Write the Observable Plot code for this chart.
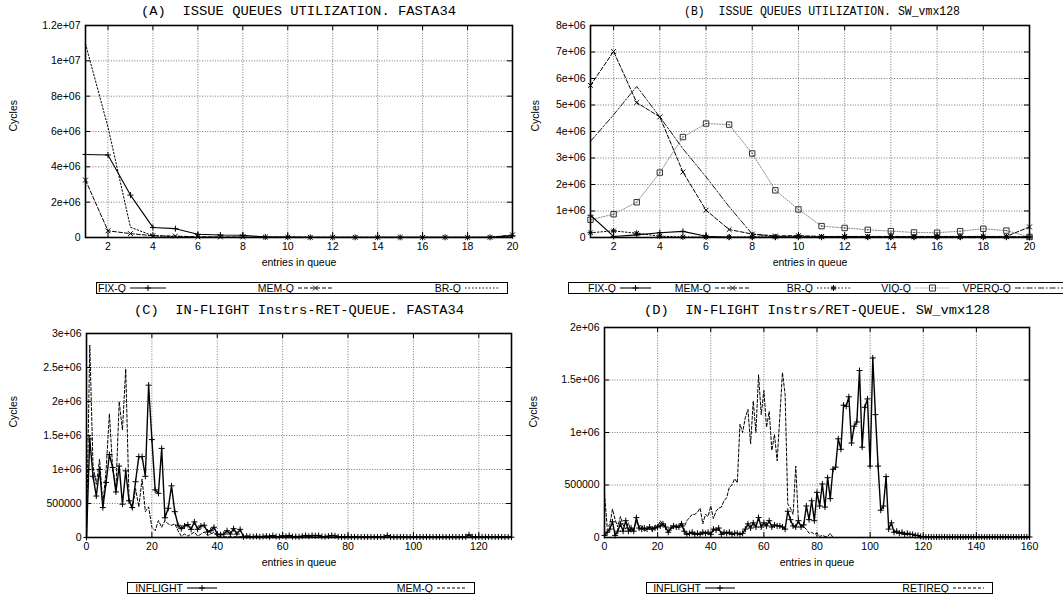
<!DOCTYPE html>
<html><head><meta charset="utf-8">
<script src="https://cdn.jsdelivr.net/npm/d3@7"></script>
<script src="https://cdn.jsdelivr.net/npm/@observablehq/plot@0.6"></script>
<style>
body{margin:0;background:#fff;}
#root{position:relative;width:1063px;height:597px;overflow:hidden;background:#fff;}
#root > svg{position:absolute;}
</style></head><body><div id="root"></div>
<script>
// ---------- DATA (y values in millions of cycles) ----------
const entriesAB = [1,2,3,4,5,6,7,8,9,10,11,12,13,14,15,16,17,18,19,20];
const xTicksAB = [2,4,6,8,10,12,14,16,18,20];

const fixA = [4.7,4.67,2.4,0.57,0.5,0.18,0.14,0.13,0.03,0.02,0.01,0.01,0.01,0.01,0.01,0.01,0.01,0.01,0.01,0.1];
const memA = [3.25,0.38,0.22,0.1,0.08,0.04,0.03,0.03,0.02,0.02,0.01,0.01,0.01,0.01,0.01,0.01,0.01,0.01,0.01,0.15];
const brA  = [10.96,6.25,0.58,0.1,0.05,0.02,0.01,0.01,0.01,0.01,0.01,0.01,0.01,0.01,0.01,0.01,0.01,0.01,0.01,0.05];
const yTicksA = [0,2,4,6,8,10,12];
const yLabelsA = ["0","2e+06","4e+06","6e+06","8e+06","1e+07","1.2e+07"];

const fixB   = [0.84,0.04,0.1,0.18,0.23,0.05,0.01,0.01,0.01,0.01,0.01,0.01,0.01,0.01,0.01,0.01,0.01,0.01,0.01,0.01];
const memB   = [5.74,7.02,5.09,4.55,2.47,1.03,0.3,0.13,0.06,0.07,0.04,0.04,0.04,0.04,0.04,0.04,0.04,0.04,0.04,0.4];
const brB    = [0.18,0.25,0.16,0.05,0.02,0.02,0.02,0.02,0.02,0.02,0.02,0.02,0.02,0.02,0.02,0.02,0.02,0.02,0.02,0.02];
const viqB   = [0.67,0.88,1.33,2.45,3.79,4.3,4.26,3.17,1.78,1.06,0.43,0.36,0.29,0.24,0.19,0.18,0.24,0.33,0.26,0.02];
const vperqB = [3.63,4.63,5.7,4.55,3.35,2.29,1.16,0.13,0.03,0.03,0.03,0.03,0.03,0.03,0.03,0.03,0.03,0.03,0.03,0.03];
const yTicksB = [0,1,2,3,4,5,6,7,8];
const yLabelsB = ["0","1e+06","2e+06","3e+06","4e+06","5e+06","6e+06","7e+06","8e+06"];

// panel C: index = entries in queue (0..130)
const inflightC = [
0,1.45,0.9,0.61,1.0,0.44,0.81,1.22,1.03,0.67,
1.05,0.49,0.98,0.54,0.44,0.82,1.19,1.19,0.9,2.24,
1.44,0.7,0.65,1.31,0.29,0.43,0.76,0.38,0.18,0.13,
0.17,0.19,0.12,0.23,0.12,0.17,0.18,0.08,0.1,0.15,
0.05,0.04,0.05,0.1,0.05,0.13,0.05,0.12,0.01,0.02,
0.015,0.012,0.018,0.01,0.015,0.02,0.012,0.028,0.015,0.012,
0.025,0.015,0.03,0.012,0.015,0.01,0.02,0.03,0.018,0.03,
0.025,0.03,0.015,0.012,0.02,0.03,0.025,0.01,0.008,0.01,
0.008,0.008,0.008,0.008,0.008,0.008,0.008,0.008,0.008,0.008,
0.008,0.008,0.03,0.008,0.008,0.008,0.008,0.008,0.008,0.008,
0.008,0.008,0.008,0.008,0.008,0.008,0.008,0.008,0.008,0.008,
0.008,0.008,0.008,0.008,0.008,0.008,0.01,0.04,0.01,0.008,
0.008,0.008,0.008,0.008,0.008,0.008,0.008,0.008,0.008,0.008,
0.005];
const memC = [
0,2.83,1.05,0.78,1.15,0.48,1.0,1.82,1.02,0.7,
2.0,1.58,2.48,0.58,0.42,0.72,0.45,0.86,0.38,0.45,
0.15,0.1,0.25,0.15,0.25,0.2,0.18,0.2,0.1,0.02,
0.05,0.02,0.05,0.08,0.02,0.05,0.08,0.03,0.05,0.08,
0.02,0.01,0.01,0.01,0.01,0.01,0.01,0.01,0.01,0.01,
0.005,0.005,0.005,0.005,0.005,0.005,0.005,0.005,0.005,0.005,
0,0,0,0,0,0,0,0,0,0,0,0,0,0,0,0,0,0,0,0,
0,0,0,0,0,0,0,0,0,0,0,0,0,0,0,0,0,0,0,0,
0,0,0,0,0,0,0,0,0,0,0,0,0,0,0,0,0,0,0,0,
0,0,0,0,0,0,0,0,0,0,0];
const xTicksC = [0,20,40,60,80,100,120];
const yTicksC = [0,0.5,1,1.5,2,2.5,3];
const yLabelsC = ["0","500000","1e+06","1.5e+06","2e+06","2.5e+06","3e+06"];

// panel D: index = entries in queue (0..160)
const inflightD = [
0.02,0.05,0.08,0.15,0.02,0.06,0.13,0.06,0.16,0.06,
0.09,0.06,0.19,0.09,0.08,0.09,0.08,0.1,0.08,0.09,
0.1,0.11,0.13,0.1,0.05,0.09,0.11,0.1,0.1,0.13,
0.06,0.03,0.04,0.05,0.03,0.04,0.03,0.05,0.04,0.05,
0.03,0.08,0.07,0.09,0.03,0.05,0.04,0.05,0.03,0.04,
0.04,0.03,0.04,0.08,0.13,0.09,0.14,0.1,0.19,0.1,
0.14,0.11,0.16,0.1,0.12,0.11,0.11,0.1,0.08,0.25,
0.17,0.11,0.1,0.16,0.1,0.12,0.3,0.17,0.35,0.16,
0.43,0.3,0.51,0.29,0.57,0.37,0.65,0.67,0.94,0.84,
1.26,1.25,1.34,0.9,1.06,1.1,1.59,0.86,1.24,1.32,
0.68,1.71,1.17,0.68,0.26,0.3,0.58,0.08,0.14,0.05,
0.06,0.04,0.05,0.03,0.04,0.03,0.03,0.02,0.02,0.01,
0.005,0.005,0.005,0.005,0.005,0.005,0.005,0.005,0.005,0.005,
0.005,0.005,0.005,0.005,0.005,0.005,0.005,0.005,0.005,0.005,
0.005,0.005,0.005,0.005,0.005,0.005,0.005,0.005,0.005,0.005,
0.005,0.005,0.005,0.005,0.005,0.005,0.005,0.005,0.005,0.005,
0.005];
const retireD = [
0.42,0.1,0.12,0.27,0.17,0.1,0.2,0.12,0.08,0.14,
0.05,0.08,0.15,0.1,0.12,0.06,0.08,0.1,0.06,0.12,
0.1,0.16,0.12,0.1,0.05,0.08,0.1,0.12,0.1,0.14,
0.1,0.16,0.19,0.22,0.22,0.24,0.28,0.13,0.22,0.2,
0.3,0.18,0.25,0.28,0.29,0.35,0.38,0.48,0.5,0.56,
0.52,1.08,1.0,1.14,1.22,0.89,1.3,1.0,1.55,1.17,
1.4,1.05,1.2,0.83,0.98,0.73,1.15,1.57,1.36,0.32,
0.28,0.22,0.68,0.15,0.12,0.1,0.08,0.04,0.05,0.03,
0.04,0.01,0.02,0.01,0.01,0.04,0,0,0,0,
0,0,0,0,0,0,0,0,0,0,0,0,0,0,0,0,0,0,0,0,
0,0,0,0,0,0,0,0,0,0,0,0,0,0,0,0,0,0,0,0,
0,0,0,0,0,0,0,0,0,0,0,0,0,0,0,0,0,0,0,0,
0,0,0,0,0,0,0,0,0,0,0];
const xTicksD = [0,20,40,60,80,100,120,140,160];
const yTicksD = [0,0.5,1,1.5,2];
const yLabelsD = ["0","500000","1e+06","1.5e+06","2e+06"];

const titles = [
  "(A)  ISSUE QUEUES UTILIZATION. FASTA34",
  "(B)  ISSUE QUEUES UTILIZATION. SW_vmx128",
  "(C)  IN-FLIGHT Instrs-RET-QUEUE. FASTA34",
  "(D)  IN-FLIGHT Instrs/RET-QUEUE. SW_vmx128"
];
const xLabel = "entries in queue";
const yLabel = "Cycles";

// ---------- STYLE ----------
const sym = {
  plus: {draw(c, s) {const r = Math.sqrt(s / Math.PI); c.moveTo(-r, 0); c.lineTo(r, 0); c.moveTo(0, -r); c.lineTo(0, r);}},
  cross: {draw(c, s) {const r = Math.sqrt(s / Math.PI) * 0.8; c.moveTo(-r, -r); c.lineTo(r, r); c.moveTo(-r, r); c.lineTo(r, -r);}},
  star: {draw(c, s) {const r = Math.sqrt(s / Math.PI), q = r * 0.75; c.moveTo(-r, 0); c.lineTo(r, 0); c.moveTo(0, -r); c.lineTo(0, r); c.moveTo(-q, -q); c.lineTo(q, q); c.moveTo(-q, q); c.lineTo(q, -q);}},
  square: {draw(c, s) {const r = Math.sqrt(s / Math.PI); c.moveTo(-r, -r); c.lineTo(r, -r); c.lineTo(r, r); c.lineTo(-r, r); c.closePath(); c.moveTo(-0.6,0); c.lineTo(0.6,0);}}
};
const ST = {
  fix:   {stroke: "#000", dash: null, width: 1.1, symbol: sym.plus, symStroke: "#000"},
  mem:   {stroke: "#000", dash: "4,2", width: 1, symbol: sym.cross, symStroke: "#000"},
  brA:   {stroke: "#000", dash: "1.5,2", width: 1, symbol: null},
  brB:   {stroke: "#000", dash: "1.5,2", width: 1, symbol: sym.star, symStroke: "#000"},
  viq:   {stroke: "#8a8a8a", dash: "1.2,1.5", width: 1, symbol: sym.square, symStroke: "#333"},
  vperq: {stroke: "#000", dash: "6,2,1.5,2", width: 0.9, symbol: null},
  infl:  {stroke: "#000", dash: null, width: 1.4, symbol: sym.plus, symStroke: "#000"},
  memC:  {stroke: "#000", dash: "3,2", width: 1, symbol: null}
};

const root = document.getElementById("root");
const FONT = "'Liberation Sans', Arial, sans-serif";

function panel(p) {
  const [mt, mr, mb, ml] = p.margins;
  const innerW = p.width - ml - mr, innerH = p.height - mt - mb;
  const marks = [
    Plot.gridX(p.xTicks, {stroke: "#555", strokeOpacity: 1, strokeWidth: 0.8, strokeDasharray: "1,1.6"}),
    Plot.gridY(p.yTicks, {stroke: "#555", strokeOpacity: 1, strokeWidth: 0.8, strokeDasharray: "1,1.6"}),
    Plot.ruleX(p.xTicks, {x: d => d, insetTop: innerH - 5, stroke: "#000"}),
    Plot.ruleX(p.xTicks, {x: d => d, insetBottom: innerH - 5, stroke: "#000"}),
    Plot.ruleY(p.yTicks, {y: d => d, insetRight: innerW - 5, stroke: "#000"}),
    Plot.ruleY(p.yTicks, {y: d => d, insetLeft: innerW - 5, stroke: "#000"})
  ];
  for (const s of p.series) {
    const rows = s.values.map((v, i) => ({x: s.xs ? s.xs[i] : i, y: v}));
    marks.push(Plot.line(rows, {x: "x", y: "y", stroke: s.style.stroke, strokeWidth: s.style.width, strokeDasharray: s.style.dash ?? undefined, curve: "linear"}));
    if (s.style.symbol) marks.push(Plot.dot(rows, {x: "x", y: "y", symbol: s.style.symbol, r: s.r ?? 3, stroke: s.style.symStroke, fill: "none", strokeWidth: 1}));
  }
  marks.push(
    Plot.frame({stroke: "#000", strokeWidth: 1.6}),
    Plot.axisX(p.xTicks, {tickSize: 0, tickPadding: 5, label: null}),
    Plot.axisY(p.yTicks, {tickSize: 0, tickPadding: 5, label: null, tickFormat: d => p.yLabels[p.yTicks.indexOf(d)]}),
    Plot.text([xLabel], {frameAnchor: "bottom", dy: p.xLabelDy, text: d => d}),
    Plot.text([yLabel], {frameAnchor: "left", dx: p.yLabelDx, dy: p.yLabelDy ?? 0, rotate: -90, text: d => d})
  );
  const svg = Plot.plot({
    width: p.width, height: p.height,
    marginTop: mt, marginRight: mr, marginBottom: mb, marginLeft: ml,
    x: {domain: p.xDomain}, y: {domain: p.yDomain},
    style: {fontFamily: FONT, fontSize: "10.5px", background: "transparent", color: "#000", overflow: "visible"},
    marks
  });
  svg.style.left = p.left + "px";
  svg.style.top = p.top + "px";
  root.appendChild(svg);
}

panel({left: 0, top: 0, width: 530, height: 270, margins: [25, 18, 33, 85],
  xDomain: [1, 20], yDomain: [0, 12], xTicks: xTicksAB, yTicks: yTicksA, yLabels: yLabelsA,
  xLabelDy: 28, yLabelDx: -72,
  series: [
    {xs: entriesAB, values: brA, style: ST.brA},
    {xs: entriesAB, values: memA, style: ST.mem},
    {xs: entriesAB, values: fixA, style: ST.fix}
  ]});
panel({left: 530, top: 0, width: 533, height: 270, margins: [25, 34, 33, 60],
  xDomain: [1, 20], yDomain: [0, 8], xTicks: xTicksAB, yTicks: yTicksB, yLabels: yLabelsB,
  xLabelDy: 28, yLabelDx: -55,
  series: [
    {xs: entriesAB, values: viqB, style: ST.viq, r: 2.7},
    {xs: entriesAB, values: vperqB, style: ST.vperq},
    {xs: entriesAB, values: brB, style: ST.brB},
    {xs: entriesAB, values: memB, style: ST.mem},
    {xs: entriesAB, values: fixB, style: ST.fix}
  ]});
panel({left: 0, top: 300, width: 530, height: 280, margins: [33, 19, 43, 86],
  xDomain: [0, 130], yDomain: [0, 3], xTicks: xTicksC, yTicks: yTicksC, yLabels: yLabelsC,
  xLabelDy: 28, yLabelDx: -73, yLabelDy: -8,
  series: [
    {values: memC, style: ST.memC},
    {values: inflightC, style: ST.infl}
  ]});
panel({left: 530, top: 300, width: 533, height: 280, margins: [27, 34, 43, 74],
  xDomain: [0, 160], yDomain: [0, 2], xTicks: xTicksD, yTicks: yTicksD, yLabels: yLabelsD,
  xLabelDy: 28, yLabelDx: -71, yLabelDy: -5,
  series: [
    {values: retireD, style: ST.memC},
    {values: inflightD, style: ST.infl}
  ]});

// ---------- titles & keys (overlay) ----------
const ov = d3.select(root).append("svg").attr("width", 1063).attr("height", 597)
  .style("position", "absolute").style("left", "0px").style("top", "0px");

const titlePos = [
  {x: 141, y: 14.5, len: 315, size: 13.5},
  {x: 684, y: 14.5, len: 276, size: 12.5},
  {x: 134, y: 313.5, len: 330, size: 13.5},
  {x: 644, y: 313.5, len: 346, size: 13.5}
];
titles.forEach((t, i) => {
  const p = titlePos[i];
  ov.append("text").attr("x", p.x).attr("y", p.y)
    .attr("textLength", p.len).attr("lengthAdjust", "spacingAndGlyphs")
    .style("white-space", "pre").attr("xml:space", "preserve")
    .style("font-family", "'Liberation Mono', 'DejaVu Sans Mono', monospace")
    .style("font-size", p.size + "px").text(t);
});

function key(box, entries) {
  ov.append("rect").attr("x", box.x + 0.5).attr("y", box.y + 0.5).attr("width", box.w).attr("height", box.h)
    .attr("fill", "none").attr("stroke", "#000").attr("stroke-width", 1);
  const cy = box.y + box.h / 2 + 0.5;
  for (const e of entries) {
    ov.append("text").attr("x", e.x1 - 4).attr("y", box.y + box.h - 1.5).attr("text-anchor", "end")
      .style("font-family", FONT).style("font-size", "10.5px").text(e.label);
    ov.append("line").attr("x1", e.x1).attr("x2", e.x2).attr("y1", cy).attr("y2", cy)
      .attr("stroke", e.style.stroke).attr("stroke-width", Math.min(e.style.width, 1.1))
      .attr("stroke-dasharray", e.style.dash);
    if (e.style.symbol) {
      const path = d3.path();
      e.style.symbol.draw(path, Math.PI * 9);
      ov.append("path").attr("d", path.toString()).attr("transform", `translate(${(e.x1 + e.x2) / 2},${cy})`)
        .attr("fill", "none").attr("stroke", e.style.symStroke);
    }
  }
}
key({x: 96, y: 282, w: 411, h: 11}, [
  {label: "FIX-Q", x1: 130, x2: 166, style: ST.fix},
  {label: "MEM-Q", x1: 298, x2: 333, style: ST.mem},
  {label: "BR-Q", x1: 465, x2: 500, style: ST.brA}
]);
key({x: 568, y: 282, w: 520, h: 11}, [
  {label: "FIX-Q", x1: 620, x2: 651, style: ST.fix},
  {label: "MEM-Q", x1: 715, x2: 750, style: ST.mem},
  {label: "BR-Q", x1: 817, x2: 850, style: ST.brB},
  {label: "VIQ-Q", x1: 915, x2: 950, style: ST.viq},
  {label: "VPERQ-Q", x1: 1015, x2: 1070, style: ST.vperq}
]);
key({x: 127, y: 582, w: 347, h: 11}, [
  {label: "INFLIGHT", x1: 187, x2: 217, style: ST.infl},
  {label: "MEM-Q", x1: 437, x2: 467, style: ST.memC}
]);
key({x: 646, y: 582, w: 346, h: 11}, [
  {label: "INFLIGHT", x1: 705, x2: 735, style: ST.infl},
  {label: "RETIREQ", x1: 953, x2: 984, style: ST.memC}
]);
</script></body></html>
